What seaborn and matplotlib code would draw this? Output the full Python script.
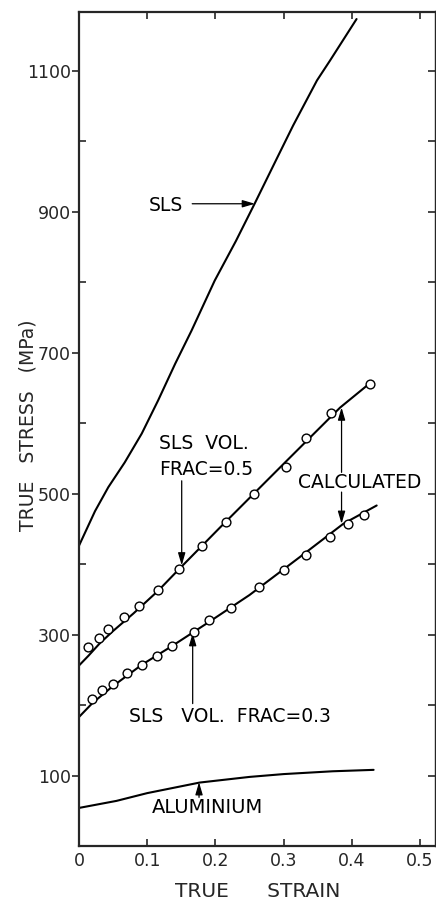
import matplotlib
matplotlib.use("Agg")
import matplotlib.pyplot as plt
import seaborn as sns
import numpy as np
import pandas as pd

# ---- data ----
sls_strain = [0, 0.0235, 0.043, 0.067, 0.092, 0.116, 0.141, 0.165, 0.199, 0.23,
              0.258, 0.29, 0.314, 0.349, 0.368, 0.407]
sls_stress = [426, 475, 509, 544, 585, 632, 684, 731, 802, 858,
              912, 975, 1022, 1086, 1114, 1173]

calc05_strain = [0, 0.014, 0.03, 0.05, 0.08, 0.116, 0.147, 0.207, 0.3, 0.383, 0.426]
calc05_stress = [256, 270, 287, 305, 330, 362, 393, 452, 542, 622, 656]
exp05_strain = [0.0137, 0.029, 0.043, 0.066, 0.088, 0.116, 0.147, 0.181, 0.2155,
                0.256, 0.303, 0.333, 0.3695, 0.426]
exp05_stress = [282, 295, 308, 325, 340, 363, 393, 425, 460, 500, 538, 579, 614, 656]

calc03_strain = [0, 0.02, 0.05, 0.092, 0.137, 0.191, 0.25, 0.324, 0.3875, 0.4365]
calc03_stress = [183, 203, 227, 257, 284, 318, 356, 410, 457, 483]
exp03_strain = [0.0186, 0.033, 0.050, 0.070, 0.092, 0.115, 0.137, 0.168, 0.191,
                0.223, 0.264, 0.300, 0.333, 0.368, 0.395, 0.418]
exp03_stress = [209, 221, 230, 245, 257, 269, 284, 303, 320, 338, 367, 391, 413,
                439, 457, 470]

al_strain = [0, 0.055, 0.1, 0.177, 0.25, 0.3, 0.372, 0.432]
al_stress = [54, 64, 75, 90, 98, 102, 106, 108]

x_ticks = [0, 0.1, 0.2, 0.3, 0.4, 0.5]
x_ticklabels = ["0", "0.1", "0.2", "0.3", "0.4", "0.5"]
y_major = [100, 300, 500, 700, 900, 1100]
y_major_labels = ["100", "300", "500", "700", "900", "1100"]
y_minor = [200, 400, 600, 800, 1000]

# ---- style ----
sns.set_style("ticks")
plt.rcParams['font.family'] = ['DejaVu Sans']
plt.rcParams['axes.linewidth'] = 1.6

fig = plt.figure(figsize=(4.36, 9.02), dpi=100)
ax = fig.add_axes([79 / 436, 56 / 902, 357 / 436, 834 / 902])

line_kw = dict(color="black", linewidth=1.5, sort=False, estimator=None, ax=ax,
               legend=False)
sns.lineplot(x=sls_strain, y=sls_stress, **line_kw)
sns.lineplot(x=calc05_strain, y=calc05_stress, **line_kw)
sns.lineplot(x=calc03_strain, y=calc03_stress, **line_kw)
sns.lineplot(x=al_strain, y=al_stress, **line_kw)

sc_kw = dict(marker="o", s=40, facecolor="white", edgecolor="black",
             linewidth=1.0, zorder=4, ax=ax, legend=False)
sns.scatterplot(x=exp05_strain, y=exp05_stress, **sc_kw)
sns.scatterplot(x=exp03_strain, y=exp03_stress, **sc_kw)

ax.set_xlim(0, 0.5235)
ax.set_ylim(0, 1183)

ax.set_xticks(x_ticks)
ax.set_xticklabels(x_ticklabels)
ax.set_yticks(y_major)
ax.set_yticklabels(y_major_labels)
ax.set_yticks(y_minor, minor=True)

ax.tick_params(axis='x', direction='in', top=True, bottom=True, length=5,
               width=1.2, labelsize=12.5, pad=4)
ax.tick_params(axis='y', which='major', direction='out', length=5, width=1.2,
               labelsize=12.5, pad=1)
ax.tick_params(axis='y', which='minor', direction='in', length=5, width=1.2)

sec = ax.secondary_yaxis('right')
sec.set_yticks(list(range(100, 1200, 100)))
sec.tick_params(direction='in', length=6, width=1.2, labelright=False)
sec.spines['right'].set_linewidth(1.6)

ax.set_xlabel("TRUE      STRAIN", fontsize=14.5, labelpad=9)
ax.set_ylabel("TRUE   STRESS   (MPa)", fontsize=13.5)
ax.yaxis.set_label_coords(-0.116, 0.505)

txt_kw = dict(fontsize=13.5, color="black")
arrow = dict(arrowstyle="-|>,head_length=0.75,head_width=0.22", color="black",
             lw=0.9, shrinkA=0, shrinkB=0, mutation_scale=10)

ax.text(0.128, 908, "SLS", ha="center", va="center", **txt_kw)
ax.annotate("", xy=(0.258, 911), xytext=(0.166, 911), arrowprops=arrow)

ax.text(0.117, 552, "SLS  VOL.\nFRAC=0.5", ha="left", va="center",
        linespacing=1.45, **txt_kw)
ax.annotate("", xy=(0.1506, 398), xytext=(0.1506, 518), arrowprops=arrow)

ax.text(0.412, 516, "CALCULATED", ha="center", va="center", **txt_kw)
ax.annotate("", xy=(0.385, 622), xytext=(0.385, 530), arrowprops=arrow)
ax.annotate("", xy=(0.385, 457), xytext=(0.385, 502), arrowprops=arrow)

ax.text(0.221, 183, "SLS   VOL.  FRAC=0.3", ha="center", va="center", **txt_kw)
ax.annotate("", xy=(0.1667, 302), xytext=(0.1667, 202), arrowprops=arrow)

ax.text(0.188, 54, "ALUMINIUM", ha="center", va="center", fontsize=14, color="black")
ax.annotate("", xy=(0.176, 90.5), xytext=(0.176, 69), arrowprops=arrow)

fig.savefig("out.png", dpi=100)
